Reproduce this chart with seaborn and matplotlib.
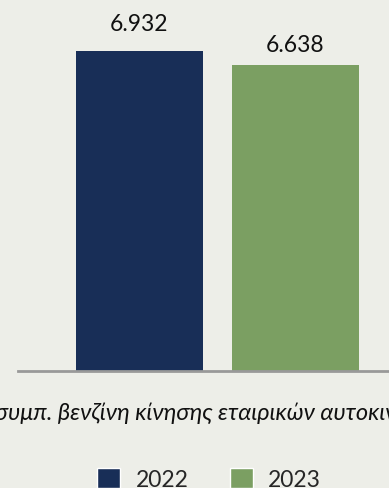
import matplotlib.pyplot as plt
import seaborn as sns
from matplotlib.patches import Patch

# data
years = ["2022", "2023"]
values = [6932, 6638]
value_labels = ["6.932", "6.638"]
category = "συμπ. βενζίνη κίνησης εταιρικών αυτοκινήτων"
colors = ["#182E57", "#7B9F62"]

bg = "#EDEEE8"
sns.set_theme(style="white")
plt.rcParams["font.family"] = ["Lato", "DejaVu Sans"]

fig = plt.figure(figsize=(3.89, 4.89), dpi=100, facecolor=bg)
ax = fig.add_axes([18 / 389, 117 / 489, 371 / 389, 372 / 489])
ax.set_facecolor(bg)

sns.barplot(x=years, y=values, hue=years, palette=colors, width=0.814,
            saturation=1, legend=False, linewidth=0, ax=ax)

# value labels (slightly different gaps in the original)
for cont, lab, pad in zip(ax.containers, value_labels, [12, 7]):
    ax.bar_label(cont, labels=[lab], padding=pad, fontsize=16.5, color="#111111")

ax.set_xlim(-0.779, 1.6)
ax.set_ylim(0, 6932 * 372 / 320)
ax.set_xticks([])
ax.set_yticks([])
ax.set_xlabel("")
ax.set_ylabel("")
for s in ["top", "right", "left"]:
    ax.spines[s].set_visible(False)
ax.spines["bottom"].set_color("#999999")
ax.spines["bottom"].set_linewidth(2)
ax.spines["bottom"].set_zorder(5)

fig.text(-5 / 389, 1 - 413 / 489, category, ha="left", va="center",
         fontsize=17, fontstyle="italic", color="#111111")

handles = [Patch(facecolor=c, label=y) for c, y in zip(colors, years)]
fig.legend(handles=handles, loc="center", bbox_to_anchor=(209 / 389, 9 / 489),
           ncol=2, frameon=False, fontsize=16.5, handlelength=1.0, handleheight=1.0,
           handletextpad=0.68, columnspacing=1.8, borderpad=0)

fig.savefig("out.png", dpi=100, facecolor=bg)
